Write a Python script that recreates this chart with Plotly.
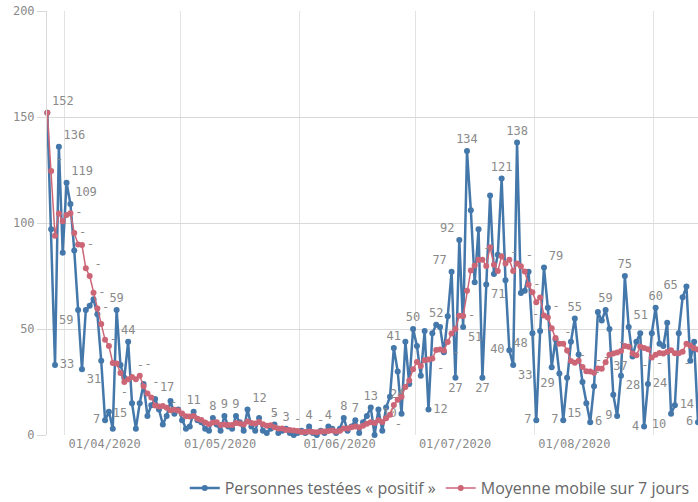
import plotly.graph_objects as go
import pandas as pd

start_date = "2020-03-27 12:00"

positifs = [
    152, 97, 33, 136, 86, 119, 109, 87, 59, 31,
    59, 61, 64, 57, 35, 7, 11, 3, 59, 33,
    27, 44, 15, 3, 15, 24, 9, 14, 17, 12,
    5, 9, 16, 10, 12, 7, 3, 4, 11, 7,
    6, 3, 2, 8, 5, 2, 9, 4, 3, 9,
    6, 2, 12, 4, 2, 8, 2, 1, 3, 5,
    1, 2, 3, 1, 0, 1, 2, 1, 4, 1,
    0, 2, 1, 4, 3, 1, 3, 8, 2, 4,
    7, 1, 6, 9, 13, 0, 12, 2, 13, 18,
    41, 30, 10, 44, 24, 50, 42, 28, 49, 12,
    48, 52, 51, 39, 56, 77, 27, 92, 51, 134,
    106, 72, 97, 27, 71, 113, 76, 85, 121, 73,
    40, 33, 138, 67, 68, 77, 48, 7, 49, 79,
    60, 32, 45, 29, 7, 27, 44, 55, 38, 25,
    15, 6, 23, 58, 54, 59, 50, 19, 9, 28,
    75, 51, 37, 44, 48, 4, 24, 48, 60, 43,
    42, 53, 10, 14, 48, 65, 70, 35, 44, 6,
]

moyenne_7j = [
    152.0, 124.5, 94.0, 104.5, 100.8, 103.8, 104.6, 95.3, 89.9, 89.6,
    78.6, 75.0, 67.1, 59.7, 52.3, 44.9, 42.0, 34.0, 33.7, 29.3,
    25.0, 26.3, 27.4, 26.3, 28.0, 23.0, 19.6, 17.7, 13.9, 13.4,
    13.7, 12.9, 11.7, 11.9, 11.6, 10.1, 8.9, 8.7, 9.0, 7.7,
    7.1, 5.9, 5.1, 5.9, 6.0, 4.7, 5.0, 4.7, 4.7, 5.7,
    5.4, 5.0, 6.4, 5.7, 5.4, 6.1, 5.1, 4.4, 4.6, 3.6,
    3.1, 3.1, 2.4, 2.3, 2.1, 1.9, 1.4, 1.4, 1.7, 1.4,
    1.3, 1.6, 1.6, 1.9, 2.1, 1.7, 2.0, 3.1, 3.1, 3.6,
    4.0, 3.7, 4.4, 5.3, 6.0, 5.7, 6.9, 6.1, 7.9, 9.6,
    14.1, 16.6, 18.0, 22.6, 25.7, 31.0, 34.4, 32.6, 35.3, 35.6,
    36.1, 40.1, 40.3, 39.9, 43.9, 47.9, 50.0, 56.3, 56.1, 68.0,
    77.6, 79.9, 82.7, 82.7, 79.7, 88.6, 80.3, 77.3, 84.3, 80.9,
    82.7, 77.3, 80.9, 79.6, 77.1, 70.9, 67.3, 62.6, 64.9, 56.4,
    55.4, 50.3, 45.7, 43.0, 43.0, 39.9, 34.9, 34.1, 35.0, 32.1,
    30.1, 30.0, 29.4, 31.4, 31.3, 34.3, 37.9, 38.4, 38.9, 39.6,
    42.0, 41.6, 38.4, 37.6, 41.7, 41.0, 40.4, 36.6, 37.9, 38.7,
    38.4, 39.1, 40.0, 38.6, 38.6, 39.3, 43.1, 42.1, 40.9, 40.3,
]

month_ticks = ["2020-04-01", "2020-05-01", "2020-06-01",
               "2020-07-01", "2020-08-01", "2020-09-01"]
month_labels = ["01/04/2020", "01/05/2020", "01/06/2020",
                "01/07/2020", "01/08/2020", "01/0…\u00a0\u00a0\u00a0\u00a0\u00a0"]
y_ticks = [0, 50, 100, 150, 200]

# which points show their value label, and where
blue_label_pos = {
    0: "top right", 2: "middle right", 3: "top right", 5: "top right", 6: "top right",
    8: "bottom left", 9: "bottom right", 15: "middle left", 18: "top center",
    21: "top center", 22: "bottom left", 28: "top right", 38: "top center",
    43: "top center", 46: "top center", 49: "top center", 52: "top right",
    59: "top center", 62: "top center", 68: "top center", 73: "top center",
    77: "top center", 80: "top center", 84: "top center", 90: "top center",
    92: "middle left", 94: "bottom left", 95: "top center", 99: "middle right",
    101: "top center", 105: "top left", 106: "bottom center", 107: "top left",
    108: "bottom right", 109: "top center", 113: "bottom center", 114: "bottom right",
    118: "top center", 120: "middle left", 121: "bottom right", 122: "top center",
    126: "bottom left", 127: "middle left", 129: "top right", 133: "bottom left",
    134: "middle left", 137: "top center", 140: "bottom left", 141: "middle right",
    145: "top center", 148: "middle left", 149: "bottom right", 150: "top center",
    151: "top right", 152: "bottom left", 155: "middle left", 156: "middle right",
    158: "top center", 162: "bottom left", 163: "middle right", 165: "top left",
    169: "middle left",
}
red_dash_pos = {
    1: "top right", 6: "middle right", 7: "middle right", 9: "middle right",
    11: "top right", 12: "middle right", 13: "middle right", 15: "middle right",
    20: "bottom center", 22: "top right", 24: "top right", 26: "top right",
    35: "top left", 57: "top right", 65: "top center", 71: "top center",
    89: "bottom right", 100: "bottom right", 104: "bottom right", 108: "middle right",
    112: "top right", 119: "top right", 123: "top right", 125: "middle right",
    129: "middle left", 130: "top right", 133: "top right", 139: "top center",
    141: "top right", 143: "top right", 145: "bottom left", 147: "top right",
    153: "bottom right", 159: "bottom center", 164: "bottom right",
}

dates = pd.date_range(start_date, periods=len(positifs), freq="D")

blue_text = [str(v) if i in blue_label_pos else "" for i, v in enumerate(positifs)]
blue_tpos = [blue_label_pos.get(i, "top center") for i in range(len(positifs))]
red_text = ["-" if i in red_dash_pos else "" for i in range(len(moyenne_7j))]
red_tpos = [red_dash_pos.get(i, "top center") for i in range(len(moyenne_7j))]

BLUE = "#4477aa"
RED = "#cc6677"
MONO = "DejaVu Sans Mono"
LABEL_GREY = "#8a8a8a"

fig = go.Figure()
fig.add_trace(go.Scatter(
    x=dates, y=positifs, name="Personnes testées « positif »",
    mode="lines+markers+text",
    line=dict(color=BLUE, width=2.5),
    marker=dict(color=BLUE, size=6),
    text=blue_text, textposition=blue_tpos,
    textfont=dict(family=MONO, size=12, color=LABEL_GREY),
    cliponaxis=False,
))
fig.add_trace(go.Scatter(
    x=dates, y=moyenne_7j, name="Moyenne mobile sur 7 jours",
    mode="lines+markers+text",
    line=dict(color=RED, width=1.5),
    marker=dict(color=RED, size=6),
    text=red_text, textposition=red_tpos,
    textfont=dict(family=MONO, size=12, color=LABEL_GREY),
    cliponaxis=False,
))

x_range = ["2020-03-27 10:00", "2020-09-12 12:00"]

fig.update_layout(
    width=698, height=502,
    margin=dict(l=47, r=0, t=11, b=67, autoexpand=False),
    paper_bgcolor="white", plot_bgcolor="white",
    showlegend=True,
    legend=dict(orientation="h", x=0.995, xanchor="right", y=-0.125, yanchor="middle",
                font=dict(family="Open Sans", size=16, color="#666666"),
                itemwidth=30, bgcolor="rgba(0,0,0,0)"),
    xaxis=dict(
        type="date", range=x_range,
        tickvals=month_ticks, ticktext=month_labels,
        ticks="", ticklabelshift=40,
        tickfont=dict(family=MONO, size=12, color=LABEL_GREY),
        showgrid=True, gridcolor="#e3e3e3", gridwidth=1,
        showline=False, zeroline=False,
    ),
    xaxis2=dict(
        type="date", range=x_range, overlaying="x", anchor="y", side="bottom",
        tickvals=month_ticks, showticklabels=False,
        ticks="outside", ticklen=36, tickcolor="#e3e3e3", tickwidth=1,
        showgrid=False, showline=False, zeroline=False,
    ),
    yaxis=dict(
        range=[0, 200], tickvals=y_ticks,
        tickfont=dict(family=MONO, size=12, color=LABEL_GREY),
        showgrid=True, gridcolor="#d9d9d9", gridwidth=1,
        ticks="outside", ticklen=9, tickcolor="#d9d9d9",
        showline=True, linecolor="#d9d9d9", linewidth=1,
        zeroline=False,
    ),
)

fig.write_html(
    "out.html",
    config={"displayModeBar": False},
    post_script="document.body.style.margin='0';document.body.style.overflow='hidden';",
)
